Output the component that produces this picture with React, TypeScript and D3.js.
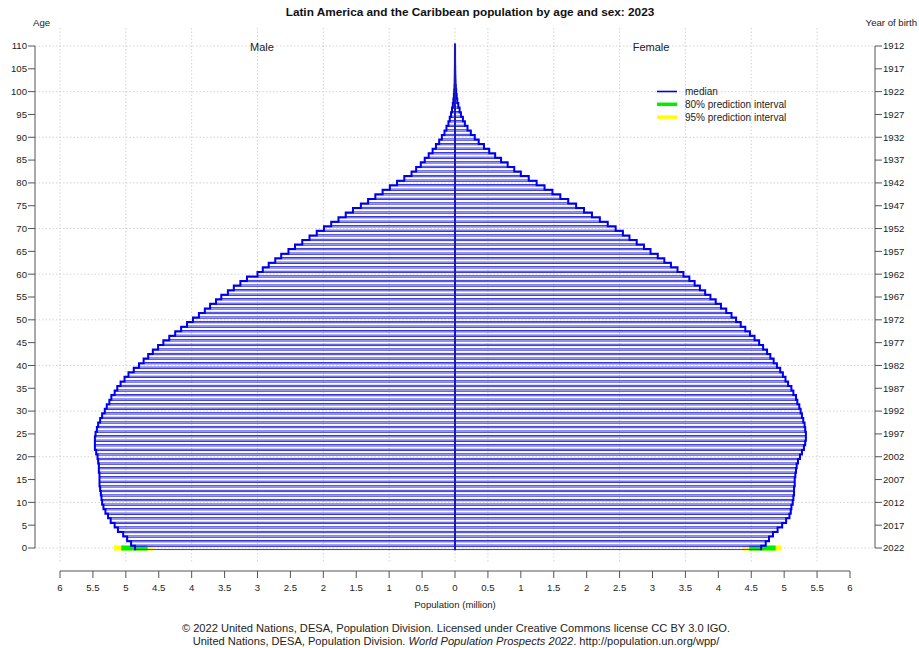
import React from "react";
import * as d3 from "d3";

const title = "Latin America and the Caribbean population by age and sex: 2023";
const ages = d3.range(0, 111);
const maleValues = [
  4.86, 4.92, 4.98, 5.04, 5.12, 5.17, 5.23, 5.27, 5.31, 5.34,
  5.36, 5.37, 5.38, 5.39, 5.40, 5.40, 5.40, 5.41, 5.41, 5.42,
  5.43, 5.45, 5.47, 5.47, 5.47, 5.46, 5.44, 5.42, 5.39, 5.36,
  5.32, 5.29, 5.25, 5.22, 5.17, 5.13, 5.08, 5.02, 4.96, 4.88,
  4.80, 4.73, 4.66, 4.59, 4.51, 4.43, 4.34, 4.25, 4.16, 4.07,
  3.98, 3.89, 3.80, 3.72, 3.63, 3.55, 3.45, 3.36, 3.26, 3.16,
  3.00, 2.92, 2.83, 2.73, 2.64, 2.53, 2.43, 2.32, 2.21, 2.10,
  1.99, 1.88, 1.77, 1.66, 1.55, 1.43, 1.32, 1.21, 1.10, 0.99,
  0.88, 0.77, 0.66, 0.59, 0.52, 0.46, 0.40, 0.34, 0.29, 0.24,
  0.20, 0.16, 0.13, 0.10, 0.08, 0.06, 0.045, 0.033, 0.024, 0.017,
  0.012, 0.008, 0.005, 0.004, 0.003, 0.002, 0.0015, 0.001, 0.001, 0.0005,
  0.0005,
];
const femaleValues = [
  4.65, 4.72, 4.77, 4.83, 4.90, 4.97, 5.03, 5.08, 5.10, 5.11,
  5.13, 5.14, 5.15, 5.15, 5.16, 5.16, 5.17, 5.18, 5.19, 5.21,
  5.24, 5.27, 5.30, 5.32, 5.33, 5.33, 5.32, 5.31, 5.29, 5.27,
  5.25, 5.23, 5.20, 5.18, 5.14, 5.11, 5.06, 5.02, 4.98, 4.94,
  4.89, 4.84, 4.79, 4.74, 4.68, 4.62, 4.55, 4.48, 4.41, 4.34,
  4.27, 4.20, 4.12, 4.04, 3.96, 3.88, 3.80, 3.72, 3.64, 3.56,
  3.47, 3.38, 3.28, 3.18, 3.08, 2.97, 2.87, 2.76, 2.65, 2.55,
  2.44, 2.32, 2.20, 2.08, 1.96, 1.84, 1.72, 1.60, 1.48, 1.36,
  1.24, 1.12, 1.00, 0.90, 0.80, 0.70, 0.61, 0.52, 0.44, 0.36,
  0.30, 0.24, 0.19, 0.15, 0.12, 0.09, 0.07, 0.05, 0.035, 0.025,
  0.018, 0.012, 0.008, 0.006, 0.004, 0.003, 0.002, 0.0015, 0.001, 0.001,
  0.0005,
];
// prediction intervals at age 0: [low, high]
const male80 = [4.67, 5.07];
const male95 = [4.58, 5.18];
const female80 = [4.47, 4.87];
const female95 = [4.37, 4.96];

const xTicks = d3.range(-6, 6.01, 0.5);
const ageTicks = d3.range(0, 111, 5);
const gridAges = d3.range(0, 111, 10);
const gridLeft = [-6, -5, -4, -3, -2, -1, 0];
const gridRight = [0.5, 1.5, 2.5, 3.5, 4.5, 5.5];
const baseYear = 2022;
const legendItems = [
  { label: "median", color: "#0000ee" },
  { label: "80% prediction interval", color: "#00ee00" },
  { label: "95% prediction interval", color: "#ffff00" },
];

const FONT = "Liberation Sans, Arial, Helvetica, sans-serif";

export default function App() {
  const W = 919, H = 648;
  const x = d3.scaleLinear().domain([-6, 6]).range([60, 850]);
  const y = d3.scaleLinear().domain([0, 110]).range([548, 46]);
  const blue = "#0000ee";
  const bh = 3.2;

  const stepPts = (vals: number[], sign: number) => {
    const pts: [number, number][] = [];
    vals.forEach((v, i) => {
      pts.push([x(sign * v), y(i - 0.5)]);
      pts.push([x(sign * v), y(i + 0.5)]);
    });
    return pts;
  };
  const line = d3.line();
  const fmt = (v: number) => String(Math.abs(v));

  return (
    <svg width={W} height={H} style={{ display: "block", position: "absolute", left: 0, top: 0, background: "#fff" }} fontFamily={FONT}>
      <rect width={W} height={H} fill="#fff" />
      {/* grid */}
      <g stroke="#c8c8c8" strokeWidth={0.8} strokeDasharray="1.5,2">
        {gridAges.map((a) => (
          <line key={"h" + a} x1={35} x2={875} y1={y(a)} y2={y(a)} />
        ))}
        {gridLeft.concat(gridRight).map((v) => (
          <line key={"v" + v} x1={x(v)} x2={x(v)} y1={28} y2={563} />
        ))}
      </g>
      {/* intervals */}
      <rect x={x(-male95[1])} width={x(-male95[0]) - x(-male95[1])} y={y(0) - 2.5} height={5} fill="#ffff00" />
      <rect x={x(-male80[1])} width={x(-male80[0]) - x(-male80[1])} y={y(0) - 2.5} height={5} fill="#00ee00" />
      <rect x={x(female95[0])} width={x(female95[1]) - x(female95[0])} y={y(0) - 2.5} height={5} fill="#ffff00" />
      <rect x={x(female80[0])} width={x(female80[1]) - x(female80[0])} y={y(0) - 2.5} height={5} fill="#00ee00" />
      {/* bars */}
      <g fill="none" stroke="#2222dd" strokeWidth={0.9}>
        {ages.map((a) => (
          <rect key={"m" + a} x={x(-maleValues[a])} width={x(0) - x(-maleValues[a])} y={y(a) - bh / 2} height={bh} />
        ))}
        {ages.map((a) => (
          <rect key={"f" + a} x={x(0)} width={x(femaleValues[a]) - x(0)} y={y(a) - bh / 2} height={bh} />
        ))}
      </g>
      {/* medians */}
      <path d={line(stepPts(maleValues, -1)) || ""} fill="none" stroke={blue} strokeWidth={2} />
      <path d={line(stepPts(femaleValues, 1)) || ""} fill="none" stroke={blue} strokeWidth={2} />
      <line x1={x(0)} x2={x(0)} y1={y(-0.5)} y2={y(110.5)} stroke="#1a1ab0" strokeWidth={2} />
      {/* axes */}
      <g fontSize={9.6} fill="#222">
        <line x1={35} x2={35} y1={y(110)} y2={y(0)} stroke="#555" strokeWidth={1} />
        {ageTicks.map((a) => (
          <g key={"l" + a}>
            <line x1={28} x2={35} y1={y(a)} y2={y(a)} stroke="#555" />
            <text x={27} y={y(a) + 3.4} textAnchor="end">{a}</text>
          </g>
        ))}
        <line x1={875} x2={875} y1={y(110)} y2={y(0)} stroke="#555" strokeWidth={1} />
        {ageTicks.map((a) => (
          <g key={"r" + a}>
            <line x1={875} x2={882} y1={y(a)} y2={y(a)} stroke="#555" />
            <text x={883} y={y(a) + 3.4} textAnchor="start">{baseYear - a}</text>
          </g>
        ))}
        <line x1={x(-6)} x2={x(6)} y1={571} y2={571} stroke="#555" />
        {xTicks.map((v) => (
          <g key={"b" + v}>
            <line x1={x(v)} x2={x(v)} y1={571} y2={578} stroke="#555" />
            <text x={x(v)} y={590.5} textAnchor="middle">{fmt(v)}</text>
          </g>
        ))}
        <text x={x(0)} y={607.5} textAnchor="middle">Population (million)</text>
        <text x={33} y={25.5}>Age</text>
        <text x={917} y={25.5} textAnchor="end">Year of birth</text>
      </g>
      <text x={262} y={51} fontSize={11} textAnchor="middle" fill="#222">Male</text>
      <text x={651} y={51} fontSize={11} textAnchor="middle" fill="#222">Female</text>
      <text x={470} y={16} fontSize={11.8} fontWeight="bold" textAnchor="middle" fill="#111">{title}</text>
      {/* legend */}
      <g fontSize={10} fill="#222">
        {legendItems.map((d, i) => (
          <g key={d.label}>
            <line x1={657} x2={677} y1={91.5 + i * 12.8} y2={91.5 + i * 12.8} stroke={d.color} strokeWidth={i === 0 ? 1.6 : 3.5} />
            <text x={685} y={95 + i * 12.8}>{d.label}</text>
          </g>
        ))}
      </g>
      {/* credits */}
      <g fontSize={11.1} fill="#222" textAnchor="middle">
        <text x={456} y={632}>© 2022 United Nations, DESA, Population Division. Licensed under Creative Commons license CC BY 3.0 IGO.</text>
        <text x={456} y={645}>
          United Nations, DESA, Population Division. <tspan fontStyle="italic">World Population Prospects 2022</tspan>. http://population.un.org/wpp/
        </text>
      </g>
    </svg>
  );
}
